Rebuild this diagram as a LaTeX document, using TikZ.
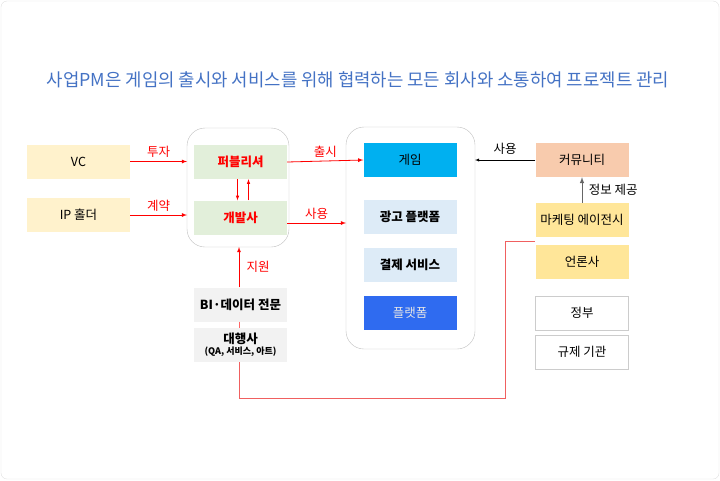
\documentclass[tikz,border=0pt]{standalone}
\usepackage{fontspec}
\setmainfont{Noto Sans CJK KR}
\usepackage{xcolor}
\definecolor{titleblue}{HTML}{4472C4}
\definecolor{cream}{HTML}{FFF2CC}
\definecolor{mint}{HTML}{E2EFDA}
\definecolor{sky}{HTML}{00B0F0}
\definecolor{pale}{HTML}{DDEBF7}
\definecolor{royal}{HTML}{2F6BF0}
\definecolor{peach}{HTML}{F8CBAD}
\definecolor{gold}{HTML}{FFE699}
\definecolor{lred}{HTML}{F06060}
\begin{document}
\begin{tikzpicture}[x=1pt,y=-1pt,
  box/.style={minimum width=93pt,minimum height=34pt,inner sep=0pt,font=\fontsize{12.5}{14}\selectfont},
  bbox/.style={box,font=\bfseries\fontsize{12.5}{14}\selectfont},
  rarr/.style={red,-latex,line width=0.8pt},
  lbl/.style={red,font=\fontsize{12.5}{14}\selectfont}]
\useasboundingbox (0,0) rectangle (720,480);
\draw[black!12,rounded corners=6pt] (1,1) rectangle (719,479);
\node[titleblue,font=\fontsize{17.8}{21}\selectfont] (title) at (358,80) {사업PM은 게임의 출시와 서비스를 위해 협력하는 모든 회사와 소통하여 프로젝트 관리};
% left side
\node[box,fill=cream,minimum width=103pt] (vc) at (78.5,161.5) {VC};
\node[box,fill=cream,minimum width=103pt] (ip) at (78.5,215) {IP 홀더};
\draw[black!25,rounded corners=18pt] (187,128) rectangle (289,247);
\coordinate (leftin1) at (187,161.5);
\coordinate (leftin2) at (187,215);
\node[bbox,fill=mint,text=red] (pub) at (240.5,162) {퍼블리셔};
\node[bbox,fill=mint,text=red] (dev) at (240.5,217.5) {개발사};
\draw[rarr] (vc) -- node[lbl,above] {투자} (leftin1);
\draw[rarr] (ip) -- node[lbl,above] {계약} (leftin2);
\draw[rarr,line width=0.6pt] ([xshift=-3pt]pub.south) -- ([xshift=-3pt]dev.north);
\draw[rarr,line width=0.6pt] ([xshift=8pt]dev.north) -- ([xshift=8pt]pub.south);
% center
\draw[black!25,rounded corners=18pt] (346,127) rectangle (475,349);
\node[box,fill=sky] (game) at (410,160) {게임};
\node[bbox,fill=pale] (ad) at (410,217) {광고 플랫폼};
\node[bbox,fill=pale] (pay) at (410,265) {결제 서비스};
\node[box,fill=royal,text=black!10] (plat) at (410,313) {플랫폼};
\coordinate (midin) at (346,223);
\coordinate (midout) at (475,160);
\draw[rarr] (pub.east) -- node[lbl,above] {출시} (game.west);
\draw[rarr] (dev.east |- midin) -- node[lbl,above] {사용} (midin);
% bottom
\node[bbox,fill=black!5] (bi) at (240.5,304.5) {BI·데이터 전문};
\node[box,fill=black!5,align=center] (agency) at (240.5,345) {\textbf{대행사}\\[-3pt]{\fontsize{9}{10}\selectfont\bfseries (QA, 서비스, 아트)}};
\coordinate (dev-in) at (239,247);
\draw[rarr] (bi.north -| dev-in) -- node[lbl,right=4pt] {지원} (dev-in);
\draw[red!60,line width=0.5pt] (bi.south -| dev-in) -- (agency.north -| dev-in);
% right side
\node[box,fill=peach] (comm) at (582,160) {커뮤니티};
\node[box,fill=gold] (mkt) at (582,220) {마케팅 에이전시};
\node[box,fill=gold] (press) at (582,262) {언론사};
\node[box,draw=black!20,fill=white] (gov) at (582,313) {정부};
\node[box,draw=black!20,fill=white] (reg) at (582,352) {규제 기관};
\draw[-latex] (comm.west) -- node[above=2pt,font=\fontsize{12.5}{14}\selectfont] {사용} (midout);
\draw[black!60,-latex,line width=1pt] (mkt.north) -- node[right=3pt,black,font=\fontsize{12.5}{14}\selectfont] {정보 제공} (comm.south);
\coordinate (c1) at (239,398);
\coordinate (c2) at (505,398);
\coordinate (c3) at (505,241);
\draw[lred,line width=0.8pt] (agency.south -| c1) -- (c1) -- (c2) -- (c3) -- (mkt.south west |- c3);
\end{tikzpicture}
\end{document}
